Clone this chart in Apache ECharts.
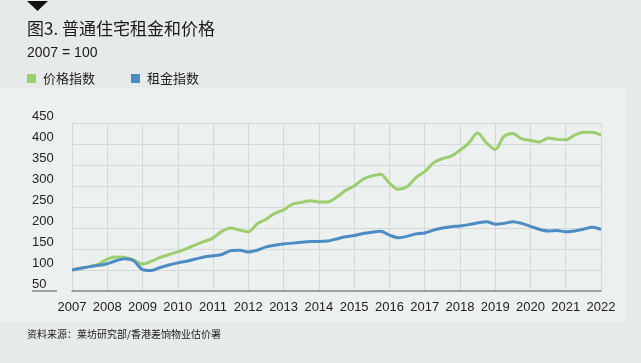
<!DOCTYPE html>
<html><head><meta charset="utf-8">
<script src="https://cdn.jsdelivr.net/npm/echarts@6/dist/echarts.min.js"></script>
<style>html,body{margin:0;padding:0;background:#e6ebe9}#c{width:641px;height:363px}</style>
</head><body><div id="c"></div>
<script>
const quarters = [];
for (let i = 0; i <= 60; i++) quarters.push(2007 + i * 0.25);
const priceIndex = [100,104,108,114,126,131,130,124,114,121,130,137,143,151,160,168,176,192,200,195,191,210,221,235,243,257,261,265,262,262,273,289,300,316,324,328,307,292,298,320,334,355,365,371,385,402,426,403,387,418,425,412,409,405,414,411,410,421,428,428,421];
const rentIndex = [100,104,108,111,115,122,127,122,101,99,106,112,117,121,126,131,134,137,146,147,143,147,155,159,162,164,166,168,168,169,174,179,182,187,190,192,183,177,180,186,188,195,200,203,205,208,212,215,209,211,215,211,204,197,193,194,191,193,197,202,197];
const yTicks = [50,100,150,200,250,300,350,400,450];
const xTicks = [2007,2008,2009,2010,2011,2012,2013,2014,2015,2016,2017,2018,2019,2020,2021,2022];
const seriesNames = ['价格指数','租金指数'];

const chart = echarts.init(document.getElementById('c'), null, {renderer:'canvas'});
const numFont = '"Liberation Sans", Arial, sans-serif';
const cjkFont = '"Noto Sans CJK SC", "Liberation Sans", sans-serif';
chart.setOption({
  backgroundColor: '#e6ebe9',
  animation: false,
  graphic: [
    {type:'rect', z:-10, shape:{x:0,y:88,width:625,height:234}, style:{fill:'#ecf1ef'}},
    {type:'polygon', shape:{points:[[27,1],[48,1],[37.5,11]]}, style:{fill:'#111'}},
    {type:'text', left:27, top:20, style:{text:'图3. 普通住宅租金和价格', fill:'#1a1a1a', font:'17px ' + cjkFont}},
    {type:'text', left:27, top:46, style:{text:'2007 = 100', fill:'#1a1a1a', font:'14px ' + numFont}},
    {type:'line', shape:{x1:32,y1:291,x2:57,y2:291}, style:{stroke:'#888',lineWidth:1.5}},
    {type:'text', left:27, top:329, style:{text:'资料来源：莱坊研究部/香港差饷物业估价署', fill:'#222', font:'10px ' + cjkFont}}
  ],
  legend: {
    left: 27, top: 72, padding: 0, icon: 'rect', itemWidth: 9, itemHeight: 9, itemGap: 36,
    textStyle: {fontFamily: cjkFont, fontSize: 13, color: '#222', padding:[0,0,0,2]},
    data: seriesNames
  },
  grid: {left:72, right:40, top:123, bottom:72},
  xAxis: {
    type:'value', min:2007, max:2022, interval:1,
    axisLine:{show:true, lineStyle:{color:'#888', width:1.5}},
    axisTick:{show:false},
    axisLabel:{margin:10, color:'#222', fontFamily:numFont, fontSize:13, formatter: v => String(v)},
    splitLine:{show:true, lineStyle:{color:'#d3d9d7', width:1}}
  },
  yAxis: {
    type:'value', min:50, max:450, interval:50,
    axisLine:{show:false}, axisTick:{show:false},
    axisLabel:{margin:40, align:'left', verticalAlign:'bottom', color:'#222', fontFamily:numFont, fontSize:13, padding:[0,0,0,0],
      formatter: v => yTicks.includes(v) ? String(v) : ''},
    splitLine:{show:true, lineStyle:{color:'#d3d9d7', width:1}}
  },
  series: [
    {name:seriesNames[0], type:'line', smooth:0.3, showSymbol:false, z:2,
     data: quarters.map((q,i)=>[q, priceIndex[i]]),
     itemStyle:{color:'#9ccd6f'}, lineStyle:{color:'#9ccd6f', width:3}},
    {name:seriesNames[1], type:'line', smooth:0.3, showSymbol:false, z:3,
     data: quarters.map((q,i)=>[q, rentIndex[i]]),
     itemStyle:{color:'#4a8cc3'}, lineStyle:{color:'#4a8cc3', width:3}}
  ]
});
</script></body></html>
